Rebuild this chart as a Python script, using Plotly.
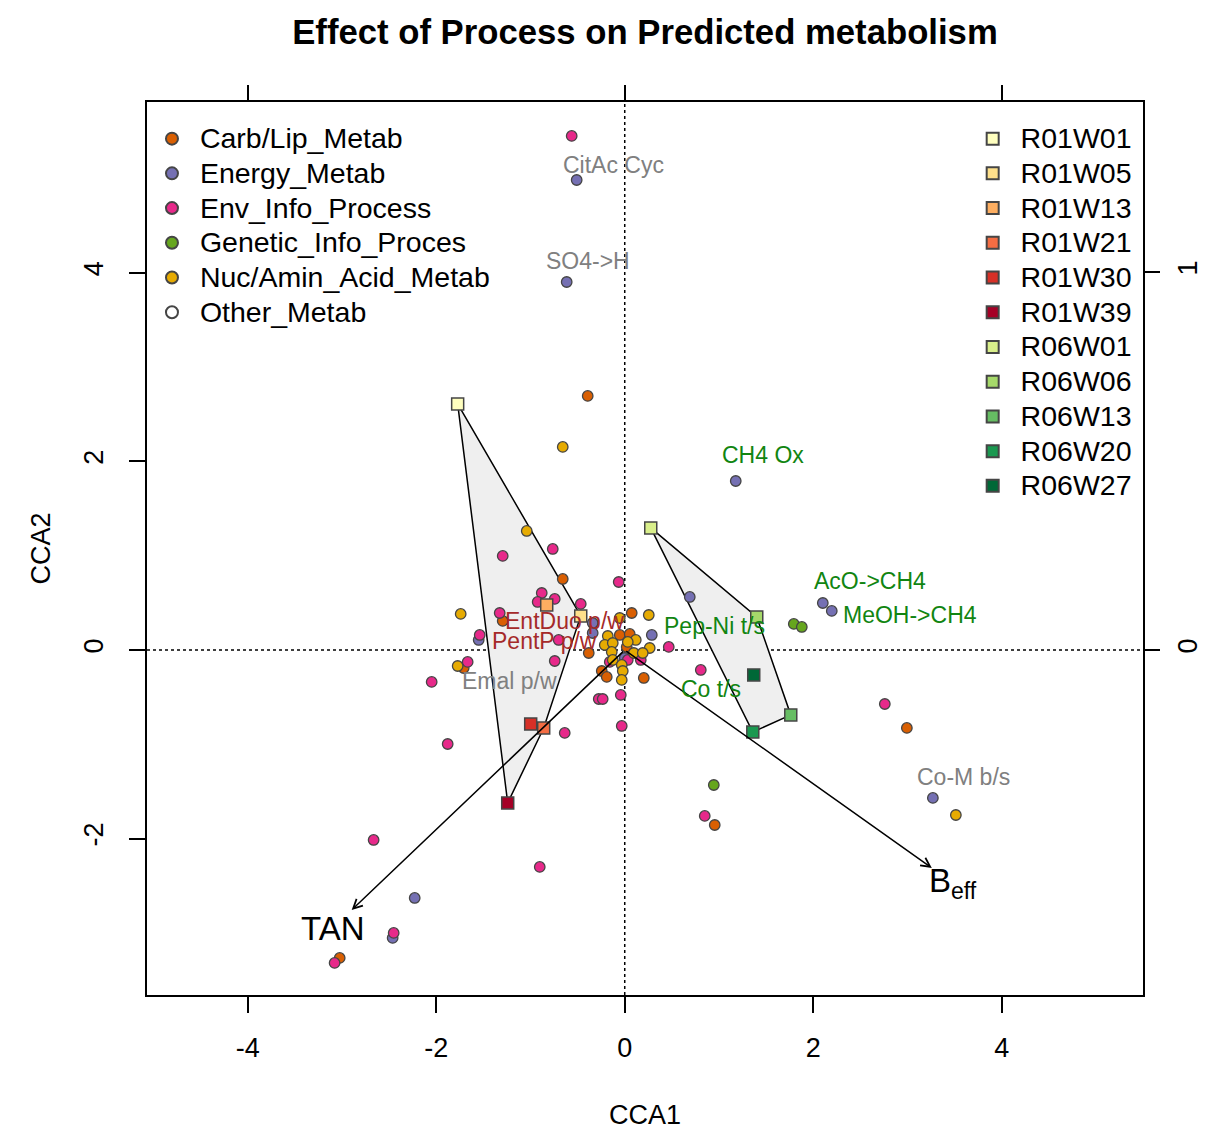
import plotly.graph_objects as go

# species scores by category (CCA1, CCA2)
carb_x = [-0.393, -0.658, -1.295, 0.074, -0.382, -1.709, -0.053, 0.053, 0.021, -0.244, -0.191, 0.202, 2.994, 0.955, -3.025]
carb_y = [2.694, 0.753, 0.308, 0.392, -0.032, -0.191, 0.159, 0.170, 0.032, -0.223, -0.286, -0.297, -0.827, -1.856, -3.266]

energy_x = [-0.510, -0.616, 1.178, 0.690, -0.340, -0.340, 0.287, -1.550, 0.0, 2.102, 2.197, 3.270, -2.229, -2.463]
energy_y = [4.984, 3.902, 1.792, 0.562, 0.286, 0.180, 0.159, 0.106, -0.085, 0.498, 0.414, -1.569, -2.630, -3.054]

env_x = [-0.563, -0.764, -1.295, -0.881, -0.924, -0.743, -0.467, -1.327, -1.539, -0.064, -0.701, 0.467, -1.667,
         -0.743, -0.042, -0.276, -0.234, -0.159, 0.032, 0.170, -2.049, -0.637, -0.032, -1.879, -0.902, 0.807,
         2.760, 0.849, -2.665, -2.452, -3.079]
env_y = [5.451, 1.071, 0.997, 0.604, 0.509, 0.541, 0.488, 0.392, 0.159, 0.721, 0.106, 0.032, -0.127,
         -0.117, -0.477, -0.520, -0.520, -0.127, -0.106, -0.106, -0.339, -0.880, -0.806, -0.997, -2.301, -0.212,
         -0.573, -1.760, -2.015, -3.001, -3.319]

genetic_x = [1.794, 1.879, 0.945]
genetic_y = [0.276, 0.244, -1.432]

nuc_x = [-0.658, -1.040, -1.741, 0.255, -0.053, -0.180, 0.117, -0.212, -0.127, 0.032, 0.265, -0.138, 0.096,
         0.191, -0.127, -0.032, -0.021, -1.773, 3.514, -0.032]
nuc_y = [2.153, 1.262, 0.382, 0.371, 0.339, 0.148, 0.106, 0.053, 0.074, 0.085, 0.021, -0.021, -0.032,
         -0.032, -0.106, -0.159, -0.223, -0.170, -1.750, -0.318]

other_x = []
other_y = []

categories = ["Carb/Lip_Metab", "Energy_Metab", "Env_Info_Process", "Genetic_Info_Proces",
              "Nuc/Amin_Acid_Metab", "Other_Metab"]
cat_colors = ["#D95F02", "#7570B3", "#E7298A", "#66A61E", "#E6AB02", "#FFFFFF"]
cat_points = [(carb_x, carb_y), (energy_x, energy_y), (env_x, env_y),
              (genetic_x, genetic_y), (nuc_x, nuc_y), (other_x, other_y)]

# site scores
sites = ["R01W01", "R01W05", "R01W13", "R01W21", "R01W30", "R01W39",
         "R06W01", "R06W06", "R06W13", "R06W20", "R06W27"]
site_x = [-1.773, -0.467, -0.828, -0.860, -0.998, -1.242, 0.276, 1.401, 1.762, 1.359, 1.369]
site_y = [2.609, 0.361, 0.477, -0.827, -0.785, -1.622, 1.294, 0.350, -0.689, -0.870, -0.265]
site_colors = ["#FFFFBF", "#FEE08B", "#FDAE61", "#F46D43", "#D73027", "#A50026",
               "#D9EF8B", "#A6D96A", "#66BD63", "#1A9850", "#006837"]

# environmental vectors
env_names = ["TAN", "B<sub>eff</sub>"]
env_vx = [-2.898, 3.259]
env_vy = [-2.757, -2.312]

# labelled pathways
lab_text = ["CitAc Cyc", "SO4->H", "CH4 Ox", "AcO->CH4", "MeOH->CH4", "Pep-Ni t/s", "Co t/s",
            "Co-M b/s", "EntDuo p/w", "PentP p/w", "Emal p/w"]
lab_x = [-0.117, -0.393, 1.465, 2.601, 3.025, 0.955, 0.913, 3.599, -0.637, -0.849, -1.221]
lab_y = [5.143, 4.125, 2.068, 0.732, 0.371, 0.255, -0.414, -1.347, 0.308, 0.095, -0.329]
lab_colors = ["#808080", "#808080", "#118511", "#118511", "#118511", "#118511", "#118511",
              "#808080", "#A52A2A", "#A52A2A", "#808080"]

x_ticks = [-4, -2, 0, 2, 4]
y_ticks = [-2, 0, 2, 4]
y2_ticks = [0, 1]

FONT = "Liberation Sans, Arial, Helvetica, sans-serif"

# the page body keeps an 8px margin, so the figure is a bit smaller than the window
W, H = 1198, 1122


def convex_hull(pts):
    pts = sorted(set(pts))
    if len(pts) < 3:
        return pts

    def cross(o, a, b):
        return (a[0] - o[0]) * (b[1] - o[1]) - (a[1] - o[1]) * (b[0] - o[0])

    lower, upper = [], []
    for p in pts:
        while len(lower) >= 2 and cross(lower[-2], lower[-1], p) <= 0:
            lower.pop()
        lower.append(p)
    for p in reversed(pts):
        while len(upper) >= 2 and cross(upper[-2], upper[-1], p) <= 0:
            upper.pop()
        upper.append(p)
    return lower[:-1] + upper[:-1]


fig = go.Figure()

# hulls per reactor
for grp in ["R01", "R06"]:
    pts = [(x, y) for s, x, y in zip(sites, site_x, site_y) if s.startswith(grp)]
    hull = convex_hull(pts)
    hull.append(hull[0])
    fig.add_trace(go.Scatter(
        x=[p[0] for p in hull], y=[p[1] for p in hull],
        mode="lines", fill="toself", fillcolor="#EFEFEF",
        line=dict(color="black", width=1.5),
        showlegend=False, hoverinfo="skip"
    ))

lab_span = '<span style="font-size:28.5px"> {}</span>'

for name, col, (px_, py_) in zip(categories, cat_colors, cat_points):
    fig.add_trace(go.Scatter(
        x=px_ if px_ else [None], y=py_ if py_ else [None],
        mode="markers", name=lab_span.format(name), legend="legend",
        marker=dict(size=10.5, color=col, line=dict(color="#454545", width=1.3))
    ))

for s, x, y, col in zip(sites, site_x, site_y, site_colors):
    fig.add_trace(go.Scatter(
        x=[x], y=[y], mode="markers", name=lab_span.format(s), legend="legend2",
        marker=dict(size=12, symbol="square", color=col, line=dict(color="#454545", width=1.5))
    ))

# dummy traces so the secondary axes get drawn
fig.add_trace(go.Scatter(x=[None], y=[None], xaxis="x2", yaxis="y", showlegend=False))
fig.add_trace(go.Scatter(x=[None], y=[None], xaxis="x", yaxis="y2", showlegend=False))

fig.add_hline(y=0, line=dict(color="black", width=1.5, dash="dot"), layer="below")
fig.add_vline(x=0, line=dict(color="black", width=1.5, dash="dot"), layer="below")

annotations = []
for name, vx, vy in zip(env_names, env_vx, env_vy):
    annotations.append(dict(
        x=vx, y=vy, ax=0, ay=0, xref="x", yref="y", axref="x", ayref="y",
        text="", showarrow=True, arrowhead=5, arrowsize=1.2, arrowwidth=1.5, arrowcolor="black"
    ))
    annotations.append(dict(
        x=vx * 1.07, y=vy * 1.07, xref="x", yref="y", text=name, showarrow=False,
        font=dict(family=FONT, size=33, color="black")
    ))

for t, x, y, c in zip(lab_text, lab_x, lab_y, lab_colors):
    annotations.append(dict(
        x=x, y=y, xref="x", yref="y", text=t, showarrow=False,
        font=dict(family=FONT, size=23, color=c)
    ))

axis_common = dict(
    showgrid=False, zeroline=False, ticks="outside", ticklen=16, tickwidth=1.5, automargin=False,
    tickcolor="black", tickfont=dict(family=FONT, size=27, color="black"),
)

fig.update_layout(
    width=W, height=H,
    margin=dict(l=139, r=63, t=94, b=135),
    paper_bgcolor="white", plot_bgcolor="white",
    font=dict(family=FONT, color="black"),
    title=dict(text="<b>Effect of Process on Predicted metabolism</b>", x=0.5, xref="paper",
               y=1 - 24 / H, yref="container", yanchor="middle", xanchor="center",
               font=dict(family=FONT, size=34.7, color="black")),
    xaxis=dict(range=[-5.07, 5.50], tickvals=x_ticks, ticktext=[str(v) for v in x_ticks],
               showline=True, linecolor="black", linewidth=1.5, mirror=True, ticklabelstandoff=12,
               title=dict(text="CCA1", font=dict(family=FONT, size=27), standoff=47),
               **axis_common),
    yaxis=dict(range=[-3.659, 5.811], tickvals=y_ticks, ticktext=[str(v) for v in y_ticks],
               showline=True, linecolor="black", linewidth=1.5, mirror=True, tickangle=-90,
               ticklabelstandoff=15,
               title=dict(text="CCA2", font=dict(family=FONT, size=27), standoff=21),
               **axis_common),
    xaxis2=dict(range=[-1.268, 1.374], tickvals=[-1, 0, 1], overlaying="x", side="top", anchor="y",
                showticklabels=False, showline=False, **axis_common),
    yaxis2=dict(range=[-0.913, 1.450], tickvals=y2_ticks, ticktext=[str(v) for v in y2_ticks],
                overlaying="y", side="right", anchor="x",
                showline=False, tickangle=-90, ticklabelstandoff=5, **axis_common),
    legend=dict(x=0.005, y=0.984, xanchor="left", yanchor="top", bgcolor="rgba(0,0,0,0)",
                font=dict(family=FONT, size=24.4, color="black"), itemsizing="constant",
                traceorder="normal"),
    legend2=dict(x=0.829, y=0.984, xanchor="left", yanchor="top", bgcolor="rgba(0,0,0,0)",
                 font=dict(family=FONT, size=24.4, color="black"), itemsizing="constant",
                 traceorder="normal"),
    annotations=annotations,
    showlegend=True,
)

fig.write_html("out.html")
